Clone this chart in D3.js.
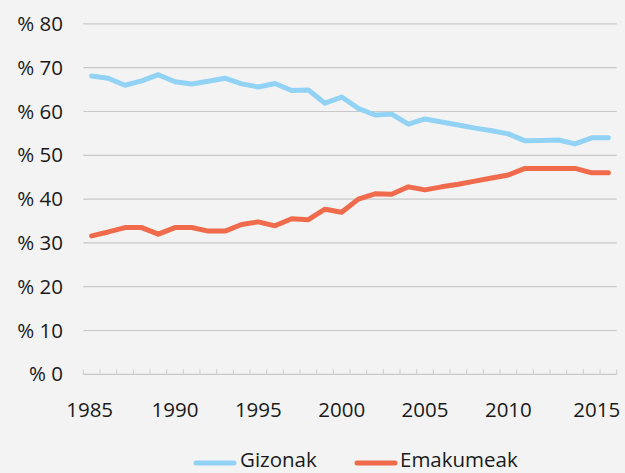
<!DOCTYPE html>
<html><head><meta charset="utf-8">
<script src="https://cdn.jsdelivr.net/npm/d3@7"></script>
<style>
html,body{margin:0;padding:0;background:#f3f3f3;}
svg{display:block;font-family:"Open Sans",sans-serif;}
</style></head>
<body><svg id="c" width="625" height="473"></svg>
<script>
const years = d3.range(1985, 2017);
const gizonak = [68.1,67.6,66.0,67.0,68.4,66.8,66.3,66.9,67.6,66.3,65.6,66.4,64.8,64.9,61.9,63.3,60.7,59.2,59.4,57.1,58.3,57.6,56.9,56.2,55.6,54.9,53.3,53.4,53.5,52.6,54.0,54.0];
const emakumeak = [31.6,32.5,33.5,33.5,32.0,33.5,33.5,32.7,32.7,34.2,34.8,33.9,35.5,35.3,37.7,37.0,40.0,41.2,41.1,42.8,42.1,42.8,43.4,44.1,44.8,45.5,47.0,47.0,47.0,47.0,46.0,46.0];
const yTicks = [0,10,20,30,40,50,60,70,80];
const xLabels = [1985,1990,1995,2000,2005,2010,2015];
const seriesNames = ["Gizonak","Emakumeak"];
const colors = ["#92d3f5","#ef6b4b"];

const svg = d3.select("#c");
const x = d3.scaleBand().domain(years).range([83.3, 616.7]);
const y = d3.scaleLinear().domain([0,80]).range([374.3, 23.9]);

// gridlines
svg.append("g").selectAll("line").data(yTicks.filter(d=>d>0)).join("line")
  .attr("x1",83.3).attr("x2",616.7)
  .attr("y1",d=>y(d)).attr("y2",d=>y(d))
  .attr("stroke","#c8c8c8").attr("stroke-width",1.2);

// y labels
svg.append("g").selectAll("text").data(yTicks).join("text")
  .attr("x",63).attr("y",d=>y(d)).attr("dy","0.35em")
  .attr("text-anchor","end").attr("font-size",20.5).attr("fill","#1a1a1a")
  .text(d=>"% "+d);

// x axis with ticks at band boundaries
const xa = svg.append("g");
xa.append("line").attr("x1",83.3).attr("x2",616.7).attr("y1",y(0)).attr("y2",y(0))
  .attr("stroke","#c8c8c8").attr("stroke-width",1.2);
const bounds = years.map(d=>x(d)).concat([x(years[years.length-1])+x.bandwidth()]);
xa.selectAll("line.t").data(bounds).join("line").attr("class","t")
  .attr("x1",d=>d).attr("x2",d=>d).attr("y1",y(0)).attr("y2",y(0)-5)
  .attr("stroke","#cccccc").attr("stroke-width",1);
xa.selectAll("text").data(xLabels).join("text")
  .attr("x",(d,i)=>x(d)+x.bandwidth()/2 + (i===0?-2:(i===xLabels.length-1?5:0)))
  .attr("y",410).attr("dy","0.35em")
  .attr("text-anchor","middle").attr("font-size",20.5).attr("fill","#1a1a1a")
  .text(d=>d);

// lines
const line = d3.line().x((d,i)=>x(years[i])+x.bandwidth()/2).y(d=>y(d));
[gizonak, emakumeak].forEach((s,k)=>{
  svg.append("path").datum(s).attr("d",line).attr("fill","none")
    .attr("stroke",colors[k]).attr("stroke-width",5)
    .attr("stroke-linejoin","round").attr("stroke-linecap","round");
});

// legend
const leg = [{x:196,tx:240},{x:357,tx:400}];
seriesNames.forEach((n,k)=>{
  svg.append("line").attr("x1",leg[k].x).attr("x2",leg[k].x+38).attr("y1",463).attr("y2",463)
    .attr("stroke",colors[k]).attr("stroke-width",5).attr("stroke-linecap","round");
  svg.append("text").attr("x",leg[k].tx).attr("y",460).attr("dy","0.35em")
    .attr("font-size",20.5).attr("fill","#1a1a1a").text(n);
});
</script></body></html>
